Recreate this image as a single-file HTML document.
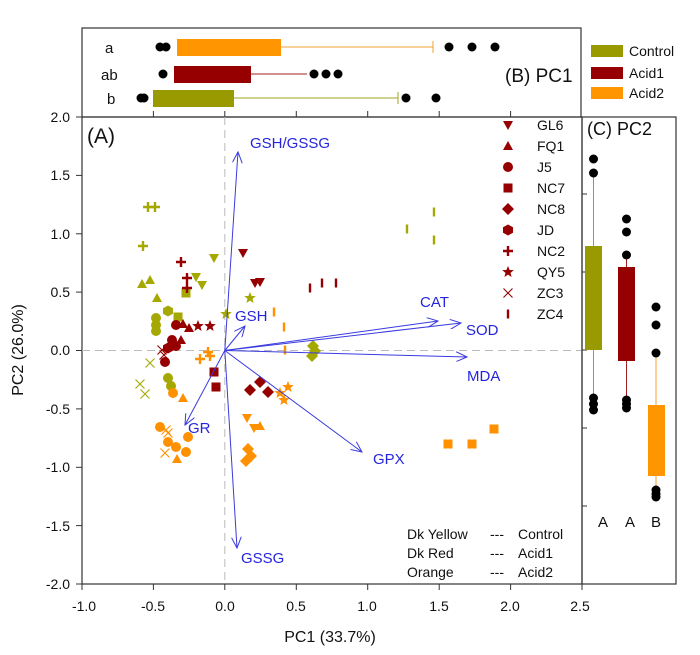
<!DOCTYPE html>
<html><head><meta charset="utf-8"><style>
html,body{margin:0;padding:0;background:#fff}
svg{display:block;font-family:"Liberation Sans",Arial,sans-serif}
</style></head><body>
<svg width="700" height="655" viewBox="0 0 700 655" xmlns="http://www.w3.org/2000/svg">
<defs>
<path id="td" d="M-5,-4 L5,-4 L0,5 Z"/>
<path id="tu" d="M-5,4 L5,4 L0,-5 Z"/>
<circle id="ci" r="5"/>
<rect id="sq" x="-4.5" y="-4.5" width="9" height="9"/>
<path id="di" d="M0,-6 L6,0 L0,6 L-6,0 Z"/>
<path id="hx" d="M0,-5.5 L5,-2.8 L5,2.8 L0,5.5 L-5,2.8 L-5,-2.8 Z"/>
<path id="pl" d="M-5,-1.2 H-1.2 V-5 H1.2 V-1.2 H5 V1.2 H1.2 V5 H-1.2 V1.2 H-5 Z"/>
<path id="st" d="M0,-6 L1.6,-2 L5.8,-1.9 L2.5,0.9 L3.6,5 L0,2.6 L-3.6,5 L-2.5,0.9 L-5.8,-1.9 L-1.6,-2 Z"/>
<path id="xx" d="M-4.5,-4.5 L4.5,4.5 M4.5,-4.5 L-4.5,4.5" fill="none" stroke-width="1.1"/>
<rect id="br" x="-1.2" y="-4.5" width="2.4" height="9"/>
<marker id="ah" markerWidth="12" markerHeight="10" refX="11" refY="5" orient="auto" markerUnits="userSpaceOnUse">
<path d="M0,0 L11,5 L0,10" fill="none" stroke="#3a3ae0" stroke-width="1"/></marker>
</defs>

<!-- Panel B -->
<rect x="82" y="28" width="499" height="89" fill="none" stroke="#333" stroke-width="1.2"/>
<g font-size="15" fill="#111">
<text x="105" y="53">a</text><text x="101" y="80">ab</text><text x="107" y="104">b</text>
<text x="505" y="82" font-size="19">(B) PC1</text>
</g>
<!-- orange row -->
<line x1="281" y1="47" x2="433" y2="47" stroke="#f4a030" stroke-width="1"/>
<line x1="433" y1="41" x2="433" y2="53" stroke="#f4a030"/>
<rect x="177" y="39" width="104" height="17" fill="#ff9500"/>
<g fill="#000"><circle cx="160" cy="47" r="4.5"/><circle cx="166" cy="47" r="4.5"/><circle cx="449" cy="47" r="4.5"/><circle cx="472" cy="47" r="4.5"/><circle cx="495" cy="47" r="4.5"/></g>
<!-- red row -->
<line x1="251" y1="74" x2="307" y2="74" stroke="#a02020"/>
<rect x="174" y="66" width="77" height="17" fill="#960000"/>
<g fill="#000"><circle cx="163" cy="74" r="4.5"/><circle cx="314" cy="74" r="4.5"/><circle cx="326" cy="74" r="4.5"/><circle cx="338" cy="74" r="4.5"/></g>
<!-- control row -->
<line x1="234" y1="98" x2="398" y2="98" stroke="#a0a020"/>
<line x1="398" y1="92" x2="398" y2="104" stroke="#a0a020"/>
<rect x="153" y="90" width="81" height="17" fill="#999a00"/>
<g fill="#000"><circle cx="141" cy="98" r="4.5"/><circle cx="144" cy="98" r="4.5"/><circle cx="406" cy="98" r="4.5"/><circle cx="436" cy="98" r="4.5"/></g>
<!-- legend -->
<rect x="591" y="45" width="32" height="12" fill="#999a00"/>
<rect x="591" y="67" width="32" height="12" fill="#960000"/>
<rect x="591" y="87" width="32" height="12" fill="#ff9500"/>
<g font-size="14" fill="#111"><text x="629" y="56">Control</text><text x="629" y="78">Acid1</text><text x="629" y="98">Acid2</text></g>

<!-- Panel A frame -->
<rect x="82" y="117" width="500" height="467" fill="none" stroke="#333" stroke-width="1.2"/>
<line x1="224.8" y1="117" x2="224.8" y2="584" stroke="#bbb" stroke-dasharray="8,5"/>
<line x1="82" y1="350.5" x2="582" y2="350.5" stroke="#bbb" stroke-dasharray="8,5"/>
<g stroke="#333">
<line x1="82" y1="584" x2="82" y2="590"/><line x1="153.4" y1="584" x2="153.4" y2="590"/><line x1="224.8" y1="584" x2="224.8" y2="590"/><line x1="296.3" y1="584" x2="296.3" y2="590"/><line x1="367.7" y1="584" x2="367.7" y2="590"/><line x1="439.2" y1="584" x2="439.2" y2="590"/><line x1="510.6" y1="584" x2="510.6" y2="590"/><line x1="582" y1="584" x2="582" y2="590"/>
<line x1="153.4" y1="117" x2="153.4" y2="111"/><line x1="224.8" y1="117" x2="224.8" y2="111"/><line x1="296.3" y1="117" x2="296.3" y2="111"/><line x1="367.7" y1="117" x2="367.7" y2="111"/><line x1="439.2" y1="117" x2="439.2" y2="111"/><line x1="510.6" y1="117" x2="510.6" y2="111"/>
<line x1="76" y1="117" x2="82" y2="117"/><line x1="76" y1="175.4" x2="82" y2="175.4"/><line x1="76" y1="233.8" x2="82" y2="233.8"/><line x1="76" y1="292.1" x2="82" y2="292.1"/><line x1="76" y1="350.5" x2="82" y2="350.5"/><line x1="76" y1="408.9" x2="82" y2="408.9"/><line x1="76" y1="467.3" x2="82" y2="467.3"/><line x1="76" y1="525.6" x2="82" y2="525.6"/><line x1="76" y1="584" x2="82" y2="584"/>
</g>
<g font-size="14" fill="#111" text-anchor="end">
<text x="70" y="122">2.0</text><text x="70" y="180">1.5</text><text x="70" y="239">1.0</text><text x="70" y="297">0.5</text><text x="70" y="355">0.0</text><text x="70" y="414">-0.5</text><text x="70" y="472">-1.0</text><text x="70" y="531">-1.5</text><text x="70" y="589">-2.0</text>
</g>
<g font-size="14" fill="#111" text-anchor="middle">
<text x="84" y="611">-1.0</text><text x="153" y="611">-0.5</text><text x="225" y="611">0.0</text><text x="296" y="611">0.5</text><text x="367" y="611">1.0</text><text x="439" y="611">1.5</text><text x="510" y="611">2.0</text><text x="580" y="611">2.5</text>
<text x="330" y="642" font-size="16">PC1 (33.7%)</text>
</g>
<text transform="translate(23,350) rotate(-90)" font-size="16" text-anchor="middle" fill="#111">PC2 (26.0%)</text>
<text x="87" y="143" font-size="21" fill="#111">(A)</text>

<!-- points: Control olive -->
<g fill="#a4a800" stroke="#a4a800">
<use href="#pl" x="148" y="207" stroke="none"/><use href="#pl" x="155" y="207" stroke="none"/><use href="#pl" x="143" y="246" stroke="none"/>
<use href="#td" x="214" y="258" stroke="none"/><use href="#td" x="196" y="277" stroke="none"/><use href="#td" x="202" y="285" stroke="none"/>
<use href="#tu" x="142" y="284" stroke="none"/><use href="#tu" x="150" y="280" stroke="none"/><use href="#tu" x="157" y="298" stroke="none"/>
<use href="#sq" x="186" y="293" stroke="none"/><use href="#sq" x="178" y="317" stroke="none"/>
<use href="#hx" x="168" y="311" stroke="none"/><use href="#ci" x="156" y="318" stroke="none"/><use href="#ci" x="156" y="325" stroke="none"/><use href="#ci" x="156" y="331" stroke="none"/>
<use href="#st" x="226" y="314" stroke="none"/><use href="#st" x="250" y="298" stroke="none"/>
<use href="#di" x="313" y="346" stroke="none"/><use href="#di" x="315" y="351" stroke="none"/><use href="#di" x="312" y="356" stroke="none"/>
<use href="#br" x="407" y="229" stroke="none"/><use href="#br" x="434" y="212" stroke="none"/><use href="#br" x="434" y="240" stroke="none"/>
<use href="#xx" x="150" y="363"/><use href="#xx" x="140" y="384"/><use href="#xx" x="145" y="394"/>
<use href="#ci" x="168" y="378" stroke="none"/><use href="#ci" x="171" y="386" stroke="none"/>
</g>
<!-- Acid1 dark red -->
<g fill="#960000" stroke="#960000">
<use href="#td" x="243" y="253" stroke="none"/><use href="#td" x="255" y="283" stroke="none"/><use href="#td" x="260" y="282" stroke="none"/>
<use href="#pl" x="181" y="262" stroke="none"/><use href="#pl" x="187" y="278" stroke="none"/><use href="#pl" x="187" y="288" stroke="none"/>
<use href="#tu" x="183" y="324" stroke="none"/><use href="#tu" x="189" y="328" stroke="none"/><use href="#tu" x="181" y="340" stroke="none"/>
<use href="#st" x="198" y="326" stroke="none"/><use href="#st" x="210" y="326" stroke="none"/>
<use href="#ci" x="176" y="325" stroke="none"/><use href="#ci" x="172" y="340" stroke="none"/><use href="#ci" x="176" y="346" stroke="none"/><use href="#hx" x="168" y="348" stroke="none"/><use href="#ci" x="165" y="362" stroke="none"/>
<use href="#sq" x="214" y="372" stroke="none"/><use href="#sq" x="216" y="387" stroke="none"/>
<use href="#di" x="250" y="390" stroke="none"/><use href="#di" x="260" y="382" stroke="none"/><use href="#di" x="268" y="392" stroke="none"/>
<use href="#xx" x="162" y="350"/><use href="#xx" x="164" y="355"/>
<use href="#br" x="310" y="288" stroke="none"/><use href="#br" x="322" y="283" stroke="none"/><use href="#br" x="336" y="283" stroke="none"/>
</g>
<!-- Acid2 orange -->
<g fill="#ff9000" stroke="#ff9000">
<use href="#pl" x="208" y="352" stroke="none"/><use href="#pl" x="200" y="359" stroke="none"/><use href="#pl" x="210" y="356" stroke="none"/>
<use href="#br" x="274" y="312" stroke="none"/><use href="#br" x="284" y="327" stroke="none"/><use href="#br" x="285" y="350" stroke="none"/>
<use href="#ci" x="173" y="393" stroke="none"/><use href="#tu" x="183" y="398" stroke="none"/>
<use href="#ci" x="160" y="427" stroke="none"/><use href="#ci" x="168" y="442" stroke="none"/><use href="#ci" x="176" y="447" stroke="none"/><use href="#ci" x="186" y="452" stroke="none"/><use href="#ci" x="188" y="437" stroke="none"/>
<use href="#xx" x="166" y="430"/><use href="#xx" x="168" y="433"/><use href="#xx" x="165" y="453"/>
<use href="#tu" x="177" y="459" stroke="none"/>
<use href="#td" x="247" y="418" stroke="none"/><use href="#td" x="254" y="428" stroke="none"/><use href="#tu" x="260" y="426" stroke="none"/>
<use href="#di" x="248" y="449" stroke="none"/><use href="#di" x="251" y="456" stroke="none"/><use href="#di" x="246" y="461" stroke="none"/>
<use href="#st" x="280" y="393" stroke="none"/><use href="#st" x="288" y="387" stroke="none"/><use href="#st" x="284" y="400" stroke="none"/>
<use href="#sq" x="448" y="444" stroke="none"/><use href="#sq" x="472" y="444" stroke="none"/><use href="#sq" x="494" y="429" stroke="none"/>
</g>

<!-- arrows -->
<g stroke="#3a3ae0" stroke-width="1" marker-end="url(#ah)" fill="none">
<line x1="224.8" y1="350.5" x2="238" y2="152"/>
<line x1="224.8" y1="350.5" x2="245" y2="326"/>
<line x1="224.8" y1="350.5" x2="438" y2="321"/>
<line x1="224.8" y1="350.5" x2="461" y2="323"/>
<line x1="224.8" y1="350.5" x2="467" y2="357"/>
<line x1="224.8" y1="350.5" x2="362" y2="452"/>
<line x1="224.8" y1="350.5" x2="185" y2="425"/>
<line x1="224.8" y1="350.5" x2="237" y2="548"/>
</g>
<g font-size="15" fill="#2525dd">
<text x="250" y="148">GSH/GSSG</text>
<text x="235" y="321">GSH</text>
<text x="420" y="307">CAT</text>
<text x="466" y="335">SOD</text>
<text x="467" y="381">MDA</text>
<text x="373" y="464">GPX</text>
<text x="188" y="433">GR</text>
<text x="241" y="563">GSSG</text>
</g>

<!-- legend of shapes -->
<g fill="#960000" stroke="#960000">
<use href="#td" x="508" y="125" stroke="none"/><use href="#tu" x="508" y="146" stroke="none"/><use href="#ci" x="508" y="167" stroke="none"/><use href="#sq" x="508" y="188" stroke="none"/><use href="#di" x="508" y="209" stroke="none"/><use href="#hx" x="508" y="230" stroke="none"/><use href="#pl" x="508" y="251" stroke="none"/><use href="#st" x="508" y="272" stroke="none"/><use href="#xx" x="508" y="293"/><use href="#br" x="508" y="314" stroke="none"/>
</g>
<g font-size="14" fill="#111">
<text x="537" y="130">GL6</text><text x="537" y="151">FQ1</text><text x="537" y="172">J5</text><text x="537" y="193">NC7</text><text x="537" y="214">NC8</text><text x="537" y="235">JD</text><text x="537" y="256">NC2</text><text x="537" y="277">QY5</text><text x="537" y="298">ZC3</text><text x="537" y="319">ZC4</text>
<text x="407" y="539">Dk Yellow</text><text x="407" y="558">Dk Red</text><text x="407" y="577">Orange</text>
<text x="490" y="539">---</text><text x="490" y="558">---</text><text x="490" y="577">---</text>
<text x="518" y="539">Control</text><text x="518" y="558">Acid1</text><text x="518" y="577">Acid2</text>
</g>

<!-- Panel C -->
<rect x="582" y="117" width="94" height="467" fill="none" stroke="#333" stroke-width="1.2"/>
<g stroke="#333"><line x1="582" y1="194" x2="587" y2="194"/><line x1="582" y1="272" x2="587" y2="272"/><line x1="582" y1="350" x2="587" y2="350"/><line x1="582" y1="428" x2="587" y2="428"/><line x1="582" y1="506" x2="587" y2="506"/></g>
<text x="587" y="135" font-size="18" fill="#111">(C) PC2</text>
<line x1="593.5" y1="173" x2="593.5" y2="398" stroke="#a0a020"/>
<rect x="585" y="246" width="17" height="104" fill="#999a00"/>
<line x1="626.5" y1="257" x2="626.5" y2="400" stroke="#a02020"/>
<rect x="618" y="267" width="17" height="94" fill="#960000"/>
<line x1="656" y1="353" x2="656" y2="490" stroke="#f4a030"/>
<rect x="648" y="405" width="17" height="71" fill="#ff9500"/>
<g fill="#000">
<circle cx="593.5" cy="159" r="4.5"/><circle cx="593.5" cy="173" r="4.5"/><circle cx="593.5" cy="398" r="4.5"/><circle cx="593.5" cy="404" r="4.5"/><circle cx="593.5" cy="410" r="4.5"/>
<circle cx="626.5" cy="219" r="4.5"/><circle cx="626.5" cy="232" r="4.5"/><circle cx="626.5" cy="255" r="4.5"/><circle cx="626.5" cy="400" r="4.5"/><circle cx="626.5" cy="404" r="4.5"/><circle cx="626.5" cy="408" r="4.5"/>
<circle cx="656" cy="307" r="4.5"/><circle cx="656" cy="325" r="4.5"/><circle cx="656" cy="353" r="4.5"/><circle cx="656" cy="490" r="4.5"/><circle cx="656" cy="494" r="4.5"/><circle cx="656" cy="497" r="4.5"/>
</g>
<g font-size="15" fill="#111" text-anchor="middle"><text x="603" y="527">A</text><text x="630" y="527">A</text><text x="656" y="527">B</text></g>
</svg>
</body></html>
